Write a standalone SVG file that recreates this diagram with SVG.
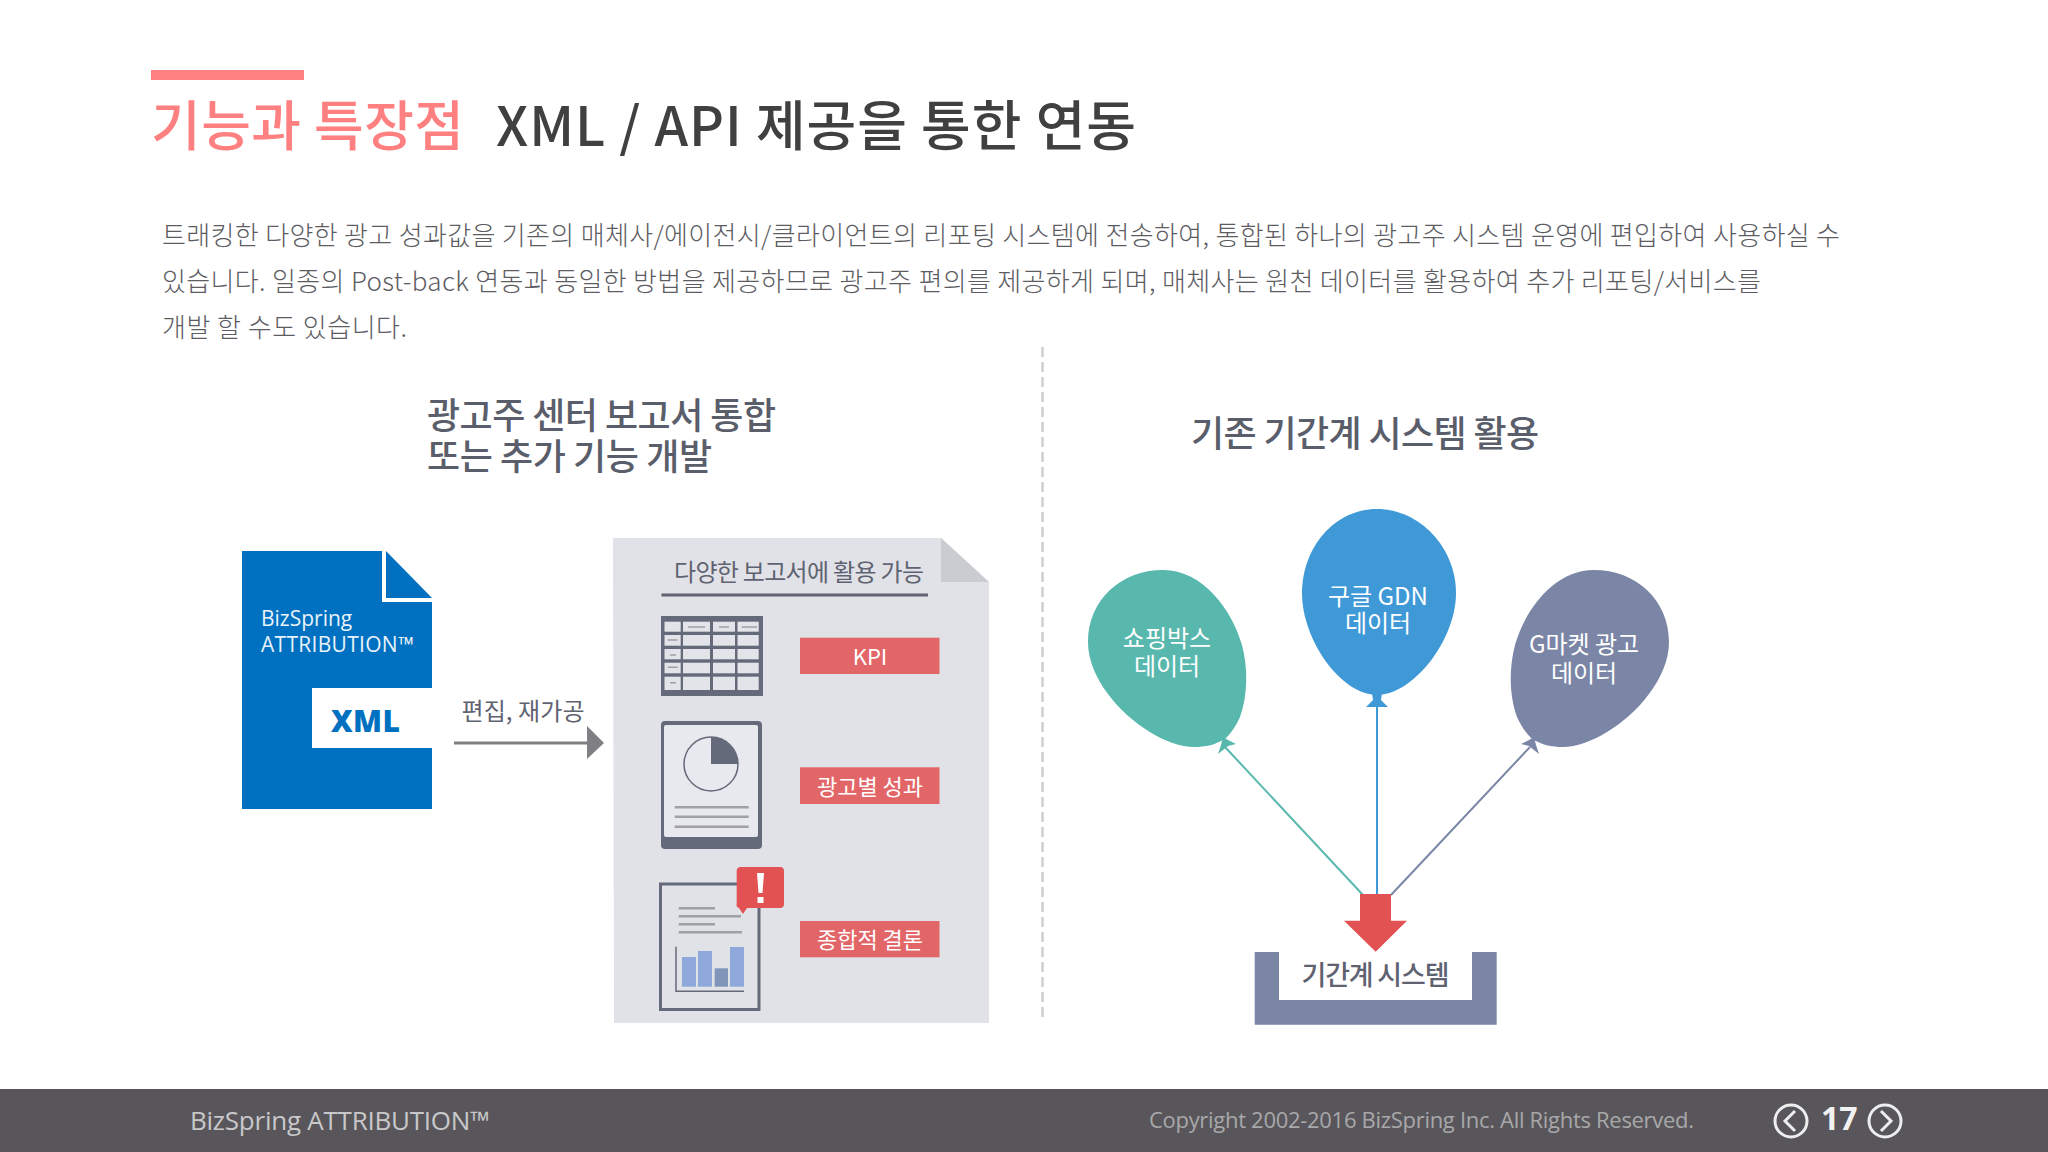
<svg xmlns="http://www.w3.org/2000/svg" width="2048" height="1152" viewBox="0 0 2048 1152">
<style>
text{font-family:"Noto Sans CJK KR","Noto Sans",sans-serif}
.lat{font-family:"Open Sans","Noto Sans CJK KR",sans-serif}
.body{font-size:26px;font-weight:300;fill:#5c5c62}
.sub{font-size:36px;font-weight:500;fill:#5a5e6b}
.w{fill:#fff;text-anchor:middle}
.bl{font-size:24px}
.tag{font-size:22px}
.red{fill:#e26668}
.slate{fill:#646a7a}
.cell{fill:#e3e4e9}
.dash{stroke:#a0a0a5;stroke-width:2.5;fill:none}
</style>
<rect width="2048" height="1152" fill="#fff"/>
<g id="header">
<rect x="151" y="70" width="153" height="10" fill="#ff8080"/>
<text x="151" y="146" font-size="54" font-weight="500" fill="#ff8080" textLength="313" lengthAdjust="spacing">기능과 특장점</text>
<text x="496" y="146" font-size="54" font-weight="500" fill="#404040" textLength="640" lengthAdjust="spacing">XML / API 제공을 통한 연동</text>
<text class="body" x="162" y="245" textLength="1678" lengthAdjust="spacing">트래킹한 다양한 광고 성과값을 기존의 매체사/에이전시/클라이언트의 리포팅 시스템에 전송하여, 통합된 하나의 광고주 시스템 운영에 편입하여 사용하실 수</text>
<text class="body" x="162" y="291" textLength="1599" lengthAdjust="spacing">있습니다. 일종의 Post-back 연동과 동일한 방법을 제공하므로 광고주 편의를 제공하게 되며, 매체사는 원천 데이터를 활용하여 추가 리포팅/서비스를</text>
<text class="body" x="162" y="337" textLength="245" lengthAdjust="spacing">개발 할 수도 있습니다.</text>
</g>
<line id="divider" x1="1042.500" y1="347" x2="1042.500" y2="1019" stroke="#cfcfcf" stroke-width="2.500" stroke-dasharray="10 5"/>
<g id="left-heading">
<text class="sub" x="427" y="429" textLength="349" lengthAdjust="spacing">광고주 센터 보고서 통합</text>
<text class="sub" x="427" y="470" textLength="285" lengthAdjust="spacing">또는 추가 기능 개발</text>
</g>
<text id="right-heading" class="sub" x="1191" y="447" textLength="348" lengthAdjust="spacing">기존 기간계 시스템 활용</text>

<g id="source-doc">
<path d="M242,551H382V602H432V809H242Z" fill="#0070c0"/>
<path d="M386,551L432,598H386Z" fill="#0070c0"/>
<rect x="312" y="688" width="120" height="60" fill="#fff"/>
<text class="lat" x="261" y="626" font-size="21" fill="#e8f2fa">BizSpring</text>
<text class="lat" x="261" y="652" font-size="21" fill="#e8f2fa" textLength="153" lengthAdjust="spacing">ATTRIBUTION™</text>
<text class="lat" x="331" y="732" font-size="30" font-weight="800" fill="#0070c0" textLength="69" lengthAdjust="spacing">XML</text>
</g>

<g id="connectors">
<line x1="454" y1="743" x2="588" y2="743" stroke="#808084" stroke-width="3"/>
<path d="M587,726L604,743L587,759Z" fill="#808084"/>
<line x1="1225" y1="747" x2="1363" y2="895" stroke="#58b8ad" stroke-width="2"/>
<line x1="1377" y1="705" x2="1377" y2="895" stroke="#3f99d6" stroke-width="2"/>
<line x1="1530" y1="747" x2="1391" y2="895" stroke="#7b86a6" stroke-width="2"/>
</g>
<text id="edge-label" x="523" y="720" font-size="24" fill="#5f6371" text-anchor="middle" textLength="123" lengthAdjust="spacing">편집, 재가공</text>

<g id="report-page">
<path d="M613,538H941L989,582V1023H614Z" fill="#e1e2e7"/>
<path d="M941,538L989,582H941Z" fill="#c9ccd1"/>
<text x="674" y="581" font-size="24" fill="#5f6371" textLength="250" lengthAdjust="spacing">다양한 보고서에 활용 가능</text>
<rect x="661.500" y="593.500" width="266.500" height="3" fill="#5f6371"/>
</g>

<g id="table-icon">
<rect x="661" y="616" width="102" height="80" class="slate"/>
<g class="cell">
<rect x="664.500" y="621.700" width="16.200" height="10"/><rect x="683" y="621.700" width="27" height="10"/><rect x="713" y="621.700" width="22" height="10"/><rect x="737.500" y="621.700" width="21.200" height="10"/>
<rect x="664.500" y="635" width="16.200" height="10.700"/><rect x="683" y="635" width="27" height="10.700"/><rect x="713" y="635" width="22" height="10.700"/><rect x="737.500" y="635" width="21.200" height="10.700"/>
<rect x="664.500" y="649" width="16.200" height="10.300"/><rect x="683" y="649" width="27" height="10.300"/><rect x="713" y="649" width="22" height="10.300"/><rect x="737.500" y="649" width="21.200" height="10.300"/>
<rect x="664.500" y="662.700" width="16.200" height="10.600"/><rect x="683" y="662.700" width="27" height="10.600"/><rect x="713" y="662.700" width="22" height="10.600"/><rect x="737.500" y="662.700" width="21.200" height="10.600"/>
<rect x="664.500" y="676.700" width="16.200" height="13.300"/><rect x="683" y="676.700" width="27" height="13.300"/><rect x="713" y="676.700" width="22" height="13.300"/><rect x="737.500" y="676.700" width="21.200" height="13.300"/>
</g>
<path class="dash" style="stroke-width:1.500" d="M688,627H705M719,627H729M741.700,627H757M667.700,640H677.700M670,655H676M667.700,667.300H677.700M670,682.700H676"/>
</g>

<g id="pie-doc-icon">
<rect x="661" y="721" width="101" height="128" rx="4" class="slate"/>
<rect x="664" y="725" width="94" height="112" rx="2" fill="#e8e9ee"/>
<circle cx="711" cy="764" r="27" fill="none" stroke="#646a7a" stroke-width="1.500"/>
<path d="M711,737A27,27 0 0 1 738,764H711Z" class="slate"/>
<path class="dash" d="M674.700,807.300H748.700M674.700,816.700H748.700M674.700,826.700H748.700"/>
</g>

<g id="chart-doc-icon">
<rect x="660.500" y="884" width="98.500" height="125.500" fill="none" stroke="#646a7a" stroke-width="3"/>
<path class="dash" d="M678.700,908.300H715M678.700,916.300H741M678.700,924.300H715M678.700,932.300H742"/>
<path d="M676,946.700V991.300H744" fill="none" stroke="#646a7a" stroke-width="1.500"/>
<rect x="682" y="957" width="14" height="29.700" fill="#8fa8dc"/>
<rect x="698" y="951" width="14" height="35.700" fill="#8fa8dc"/>
<rect x="714.700" y="968.300" width="13.300" height="18.400" fill="#7f96b8"/>
<rect x="730" y="947" width="14" height="39.700" fill="#8fa8dc"/>
<path d="M740,867H780a4,4 0 0 1 4,4V904a4,4 0 0 1 -4,4H747L743,914L739,908a3,3 0 0 1 -2.300,-4V871a4,4 0 0 1 3.300,-4Z" fill="#e25252"/>
<path d="M757,873H764L762.500,893H758.500Z" fill="#fff"/>
<rect x="757.500" y="897" width="6" height="6" fill="#fff"/>
</g>

<g id="tag-kpi"><rect x="800" y="637.700" width="139.500" height="36.300" class="red"/><text class="w tag" x="870" y="665">KPI</text></g>
<g id="tag-ad"><rect x="800" y="767.300" width="139.500" height="36.700" class="red"/><text class="w tag" x="870" y="795">광고별 성과</text></g>
<g id="tag-summary"><rect x="800" y="921" width="139.500" height="36.300" class="red"/><text class="w tag" x="870" y="948">종합적 결론</text></g>

<g id="balloon-shopping">
<path d="M1226,738C1216,745 1205,747 1194,747C1168,747 1130,724 1108,694C1096,678 1088,660 1088,642C1088,600 1121,570 1163,570C1203,570 1232,610 1242,645C1248,668 1248,695 1240,717C1236,726 1231,733 1226,738Z" fill="#58b8ad"/>
<path d="M1223,737L1228,740L1236,744L1228,746L1218,754L1221,745Z" fill="#58b8ad"/>
<text class="w bl" x="1167" y="647">쇼핑박스</text>
<text class="w bl" x="1167" y="675">데이터</text>
</g>
<g id="balloon-gdn">
<path d="M1377,509C1420,509 1456,548 1456,593C1456,640 1413,695 1377,695C1341,695 1302,640 1302,593C1302,548 1334,509 1377,509Z" fill="#3f99d6"/>
<path d="M1372,693H1382L1381,700L1388,707H1366L1373,700Z" fill="#3f99d6"/>
<text class="w bl" x="1378" y="605">구글 GDN</text>
<text class="w bl" x="1378" y="632">데이터</text>
</g>
<g id="balloon-gmarket">
<path transform="matrix(-1 0 0 1 2757 0)" d="M1226,738C1216,745 1205,747 1194,747C1168,747 1130,724 1108,694C1096,678 1088,660 1088,642C1088,600 1121,570 1163,570C1203,570 1232,610 1242,645C1248,668 1248,695 1240,717C1236,726 1231,733 1226,738Z" fill="#7b86a6"/>
<path transform="matrix(-1 0 0 1 2757 0)" d="M1223,737L1228,740L1236,744L1228,746L1218,754L1221,745Z" fill="#7b86a6"/>
<text class="w bl" x="1584" y="653">G마켓 광고</text>
<text class="w bl" x="1584" y="682">데이터</text>
</g>

<g id="merge-arrow"><path d="M1360,894H1391V920.700H1407L1375.700,951.700L1344,920.700H1360Z" fill="#e25252"/></g>
<g id="legacy-system">
<path d="M1254.700,952H1279V1000H1472V952H1496.700V1024.700H1254.700Z" fill="#7b86a6"/>
<text x="1375.500" y="985" font-size="27" font-weight="500" fill="#5f6371" text-anchor="middle" textLength="148" lengthAdjust="spacing">기간계 시스템</text>
</g>

<g id="footer">
<rect y="1089" width="2048" height="63" fill="#58565a"/>
<text class="lat" x="190" y="1130" font-size="26" fill="#c8c8ca" textLength="300" lengthAdjust="spacing">BizSpring ATTRIBUTION™</text>
<text class="lat" x="1149" y="1128" font-size="22" fill="#a8a8aa" textLength="545" lengthAdjust="spacing">Copyright 2002-2016 BizSpring Inc. All Rights Reserved.</text>
<circle cx="1791" cy="1121" r="16" fill="none" stroke="#eee" stroke-width="3"/>
<path d="M1795,1111L1785,1121L1795,1131" fill="none" stroke="#eee" stroke-width="3"/>
<text class="lat" x="1821" y="1130" font-size="32" font-weight="700" fill="#f2f2f2">17</text>
<circle cx="1885" cy="1121" r="16" fill="none" stroke="#eee" stroke-width="3"/>
<path d="M1881,1111L1891,1121L1881,1131" fill="none" stroke="#eee" stroke-width="3"/>
</g>
</svg>
